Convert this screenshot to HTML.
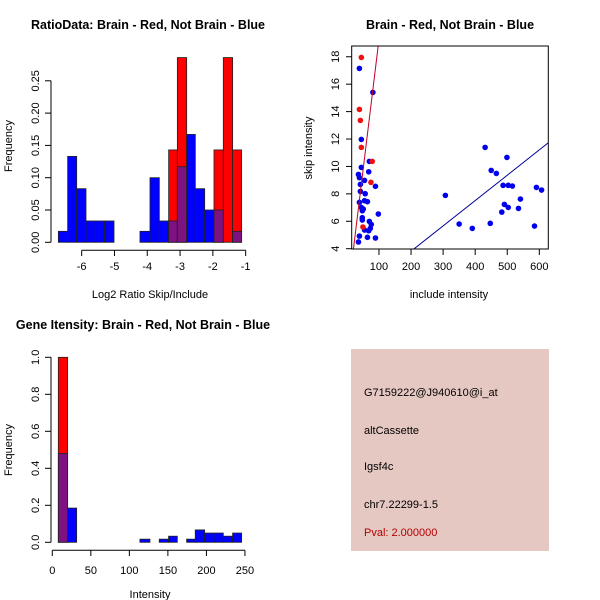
<!DOCTYPE html>
<html><head><meta charset="utf-8"><style>
html,body{margin:0;padding:0;background:#fff}
svg{display:block;font-family:"Liberation Sans",sans-serif}
</style></head><body>
<svg id="s" width="600" height="600" viewBox="0 0 600 600">
<rect width="600" height="600" fill="#fff"/>
<text x="148" y="29" font-size="12.5" font-weight="bold" text-anchor="middle">RatioData: Brain - Red, Not Brain - Blue</text>
<text x="450" y="29" font-size="12.5" font-weight="bold" text-anchor="middle">Brain - Red, Not Brain - Blue</text>
<text x="143" y="329" font-size="12.5" font-weight="bold" text-anchor="middle">Gene Itensity: Brain - Red, Not Brain - Blue</text>
<text x="150" y="298" font-size="11" text-anchor="middle">Log2 Ratio Skip/Include</text>
<text x="449" y="298" font-size="11" text-anchor="middle">include intensity</text>
<text x="150" y="598" font-size="11" text-anchor="middle">Intensity</text>
<text transform="translate(12,146) rotate(-90)" font-size="11" text-anchor="middle">Frequency</text>
<text transform="translate(312,148) rotate(-90)" font-size="11" text-anchor="middle">skip intensity</text>
<text transform="translate(12,450) rotate(-90)" font-size="11" text-anchor="middle">Frequency</text>
<g>
<rect x="351" y="349" width="198" height="202" fill="#e6c8c2"/>
<text x="364" y="396" font-size="11">G7159222@J940610@i_at</text>
<text x="364" y="434" font-size="11">altCassette</text>
<text x="364" y="470" font-size="11">Igsf4c</text>
<text x="364" y="508" font-size="11">chr7.22299-1.5</text>
<text x="364" y="536" font-size="11" fill="#b00000">Pval: 2.000000</text>
</g>
</svg>
<script>
// ---- Plot 1 data: ratio histogram ----
const ratioBlueEdges=[-6.711,-6.427,-6.152,-5.868,-5.584,-5.299,-5.014];
const ratioBlueFreqA=[0.017,0.133,0.083,0.033,0.033,0.033];
const ratioBlueEdgesB=[-4.222,-3.917,-3.633,-3.348,-3.083,-2.799,-2.535,-2.250,-1.966,-1.682,-1.398,-1.123];
const ratioBlueFreqB=[0.017,0.1,0.033,0.033,0.117,0.167,0.083,0.05,0.05,0,0.017];
const ratioRedFreqB=[0,0,0,0.143,0.286,0,0,0,0.143,0.286,0.143];
const ratioXTicks=[-6,-5,-4,-3,-2,-1];
const ratioYTicks=[0,0.05,0.10,0.15,0.20,0.25];
const ratioYLabels=["0.00","0.05","0.10","0.15","0.20","0.25"];
// ---- Plot 2 data: scatter ----
const redX=[45,39,42,45,79,75,50];
const redY=[17.95,14.16,13.36,11.39,10.37,8.84,5.58];
const blueX=[39,81,45,70,45,68,36,39,55,42,89,42,57,55,64,39,45,51,48,98,48,48,70,76,73,55,68,39,64,89,36,307,431,450,466,499,487,503,516,491,503,541,535,483,591,607,350,391,447,585];
const blueY=[17.15,15.4,11.97,10.37,9.93,9.61,9.42,9.18,8.98,8.69,8.55,8.18,8.01,7.5,7.43,7.38,7.01,6.89,6.77,6.53,6.26,6.09,5.99,5.77,5.48,5.36,5.31,4.92,4.83,4.78,4.49,7.89,11.39,9.71,9.49,10.66,8.62,8.62,8.57,7.23,7.01,7.62,6.94,6.67,8.47,8.28,5.8,5.48,5.85,5.65];
const redFit=[0.06,0.192];
const blueFit=[0.12,0.01848];
const scXTicks=[100,200,300,400,500,600];
const scYTicks=[4,6,8,10,12,14,16,18];
// ---- Plot 3 data: intensity histogram ----
const intEdges=[7.8,19.9,31.6];
const intBlueA=[0.48,0.185];
const intRedA=[1.0,0];
const intEdgesB=[113.7,126.7,138.8,150.9,162.2,174.3,185.5,197.7,209.8,221.9,234,245.7];
const intBlueB=[0.017,0,0.017,0.033,0,0.017,0.067,0.05,0.05,0.033,0.05];
const intXTicks=[0,50,100,150,200,250];
const intYTicks=[0,0.2,0.4,0.6,0.8,1.0];
const intYLabels=["0.0","0.2","0.4","0.6","0.8","1.0"];

const svg=document.getElementById('s');
const NS='http://www.w3.org/2000/svg';
function mk(tag,attrs){const e=document.createElementNS(NS,tag);for(const k in attrs)e.setAttribute(k,attrs[k]);svg.appendChild(e);return e;}
function bar(x0,x1,y0,y1,fill,name){
  const e=mk('rect',{x:Math.min(x0,x1),y:Math.min(y0,y1),width:Math.abs(x1-x0),height:Math.abs(y1-y0),fill:fill,stroke:'#222','stroke-width':0.8});
  
  
}
function line(x1,y1,x2,y2,c,w,name){const e=mk('line',{x1,y1,x2,y2,stroke:c,'stroke-width':w||1});}
function txt(x,y,s,anchor,rot,name){const e=mk('text',{x,y,'font-size':11,'text-anchor':anchor||'middle'});if(rot)e.setAttribute('transform',`rotate(-90 ${x} ${y})`);e.textContent=s;}
const PURPLE='#7d1280';

const r_x=v=>81.67+(v+6)*32.8, r_y=v=>242.3-v*646;
function histGroup(edges,blue,red,xf,yf,prefix){
  for(let i=0;i<blue.length;i++){
    const b=blue[i], r=red?red[i]:0;
    const x0=xf(edges[i]),x1=xf(edges[i+1]);
    if(r>0) bar(x0,x1,yf(0),yf(r),'#ff0000',prefix+'-red-bar');
    if(b>0){
      if(r>0){
        if(b>r) bar(x0,x1,yf(0),yf(b),'#0000ff',prefix+'-blue-bar');
        bar(x0,x1,yf(0),yf(Math.min(b,r)),PURPLE,prefix+'-overlap-bar');
      } else bar(x0,x1,yf(0),yf(b),'#0000ff',prefix+'-blue-bar');
    }
  }
}
histGroup(ratioBlueEdges,ratioBlueFreqA,null,r_x,r_y,'ratio');
histGroup(ratioBlueEdgesB,ratioBlueFreqB,ratioRedFreqB,r_x,r_y,'ratio');
line(r_x(-6),250.3,r_x(-1),250.3,'#000',1,'ratio-x-axis');
ratioXTicks.forEach(t=>{line(r_x(t),250.3,r_x(t),256,'#000',1,'ratio-x-tick');txt(r_x(t),270,String(t),'middle',false,'ratio-x-tick-label');});
line(51,r_y(0),51,r_y(0.25),'#000',1,'ratio-y-axis');
ratioYTicks.forEach((t,i)=>{line(45,r_y(t),51,r_y(t),'#000',1,'ratio-y-tick');txt(39,r_y(t),ratioYLabels[i],'middle',true,'ratio-y-tick-label');});

const s_x=v=>346.9+v*0.3207, s_y=v=>248.7-(v-4)*13.71;
const clip=mk('clipPath',{id:'cp'});const cr=document.createElementNS(NS,'rect');cr.setAttribute('x',352);cr.setAttribute('y',46);cr.setAttribute('width',196);cr.setAttribute('height',203);clip.appendChild(cr);
blueX.forEach((x,i)=>{const e=mk('circle',{cx:s_x(x),cy:s_y(blueY[i]),r:2.8,fill:'#0000ee'});});
redX.forEach((x,i)=>{const e=mk('circle',{cx:s_x(x),cy:s_y(redY[i]),r:2.8,fill:'#ee1111'});});
const g1=mk('line',{x1:s_x(0),y1:s_y(redFit[0]),x2:s_x(100),y2:s_y(redFit[0]+redFit[1]*100),stroke:'#c00020','stroke-width':1,'clip-path':'url(#cp)'});

const g2=mk('line',{x1:s_x(0),y1:s_y(blueFit[0]),x2:s_x(700),y2:s_y(blueFit[0]+blueFit[1]*700),stroke:'#000099','stroke-width':1,'clip-path':'url(#cp)'});

const box=mk('rect',{x:351.7,y:46,width:196.6,height:203,fill:'none',stroke:'#000','stroke-width':1});

scXTicks.forEach(t=>{line(s_x(t),249,s_x(t),255,'#000',1,'scatter-x-tick');txt(s_x(t),270,String(t),'middle',false,'scatter-x-tick-label');});
scYTicks.forEach(t=>{line(346,s_y(t),351.7,s_y(t),'#000',1,'scatter-y-tick');txt(339,s_y(t),String(t),'middle',true,'scatter-y-tick-label');});

const i_x=v=>52.3+v*0.7706, i_y=v=>542.3-v*185;
histGroup(intEdges,intBlueA,intRedA,i_x,i_y,'intensity');
histGroup(intEdgesB,intBlueB,null,i_x,i_y,'intensity');
line(i_x(0),550.3,i_x(250),550.3,'#000',1,'intensity-x-axis');
intXTicks.forEach(t=>{line(i_x(t),550.3,i_x(t),556,'#000',1,'intensity-x-tick');txt(i_x(t),574,String(t),'middle',false,'intensity-x-tick-label');});
line(51,i_y(0),51,i_y(1),'#000',1,'intensity-y-axis');
intYTicks.forEach((t,i)=>{line(45,i_y(t),51,i_y(t),'#000',1,'intensity-y-tick');txt(39,i_y(t),intYLabels[i],'middle',true,'intensity-y-tick-label');});
</script>
</body></html>
